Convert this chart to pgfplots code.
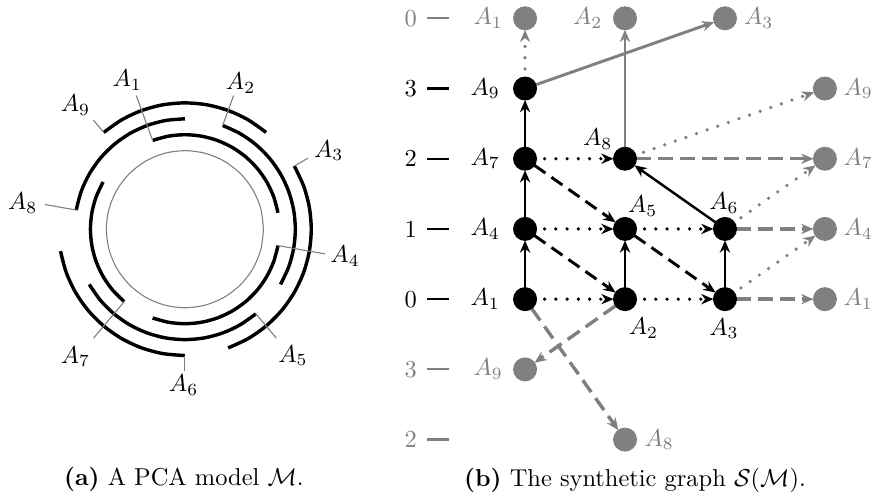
\documentclass[border=0pt]{standalone}
\usepackage{pgfplots}
\pgfplotsset{compat=1.18}
\usetikzlibrary{arrows.meta}
\pgfplotsset{
  arcst/.style={black, line width=1.4pt, data cs=polar, smooth},
  lblline/.style={gray, line width=0.45pt, data cs=polar},
  tip/.style={-{Stealth[length=5pt,width=4.2pt,inset=1.6pt]}},
  bsolid/.style={black, line width=1pt, tip, shorten <=4.7pt, shorten >=4.7pt},
  bdot/.style={black, line width=1.5pt, line cap=round, dash pattern=on 0pt off 4.6pt, tip, shorten <=8pt, shorten >=4.7pt},
  bdash/.style={black, line width=1.2pt, dash pattern=on 5.5pt off 3pt, tip, shorten <=4.7pt, shorten >=4.7pt},
  gsolid/.style={gray, line width=1.2pt, tip, shorten <=4.7pt, shorten >=4.7pt},
  gdot/.style={gray, line width=1.5pt, line cap=round, dash pattern=on 0pt off 4.6pt, tip, shorten <=8pt, shorten >=4.7pt},
  gdash/.style={gray, line width=1.4pt, dash pattern=on 6pt off 3pt, tip, shorten <=4.7pt, shorten >=4.7pt},
}
\begin{document}
\begin{tikzpicture}
% ---------------- (a) PCA model ----------------
\begin{axis}[at={(0,0)}, anchor=south west, x=0.407pt, y=0.407pt,
  xmin=-188, xmax=693, ymin=-274, ymax=228,
  scale only axis, hide axis, clip=false]
% thin inner circle
\addplot[gray, line width=0.45pt, data cs=polar, smooth] coordinates {
 (0,79) (15,79) (30,79) (45,79) (60,79) (75,79) (90,79) (105,79) (120,79) (135,79) (150,79) (165,79)
 (180,79) (195,79) (210,79) (225,79) (240,79) (255,79) (270,79) (285,79) (300,79) (315,79) (330,79) (345,79) (360,79)};
% ring 1 (r = 95)
\addplot[arcst] coordinates {(10,95) (20,95) (30,95) (40,95) (50,95) (60,95) (70,95) (80,95) (90,95) (100,95) (110,95)}; % A1
\addplot[arcst] coordinates {(-110,95) (-100,95) (-90,95) (-80,95) (-70,95) (-60,95) (-50,95) (-40,95) (-30,95) (-20,95) (-10,95)}; % A4
\addplot[arcst] coordinates {(150,95) (160,95) (170,95) (180,95) (190,95) (200,95) (210,95) (220,95) (230,95)}; % A7
% ring 2 (r = 111)
\addplot[arcst] coordinates {(-30,111) (-20,111) (-10,111) (0,111) (10,111) (20,111) (30,111) (40,111) (50,111) (60,111) (70,111)}; % A2
\addplot[arcst] coordinates {(-150,111) (-140,111) (-130,111) (-120,111) (-110,111) (-100,111) (-90,111) (-80,111) (-70,111) (-60,111) (-50,111)}; % A5
\addplot[arcst] coordinates {(90,111) (100,111) (110,111) (120,111) (130,111) (140,111) (150,111) (160,111) (170,111)}; % A8
% ring 3 (r = 127)
\addplot[arcst] coordinates {(-70,127) (-60,127) (-50,127) (-40,127) (-30,127) (-20,127) (-10,127) (0,127) (10,127) (20,127) (30,127)}; % A3
\addplot[arcst] coordinates {(-170,127) (-160,127) (-150,127) (-140,127) (-130,127) (-120,127) (-110,127) (-100,127) (-90,127)}; % A6
\addplot[arcst] coordinates {(50,127) (60,127) (70,127) (80,127) (90,127) (100,127) (110,127) (120,127) (130,127)}; % A9
% label lines
\addplot[lblline] coordinates {(110,95) (110,143)};
\addplot[lblline] coordinates {(70,111) (70,143)};
\addplot[lblline] coordinates {(30,127) (30,143)};
\addplot[lblline] coordinates {(-10,95) (-10,143)};
\addplot[lblline] coordinates {(-50,111) (-50,143)};
\addplot[lblline] coordinates {(-90,127) (-90,143)};
\addplot[lblline] coordinates {(-130,95) (-130,143)};
\addplot[lblline] coordinates {(170,111) (170,143)};
\addplot[lblline] coordinates {(130,127) (130,143)};
% labels
\node at (axis cs:-58,150) {$A_1$};
\node at (axis cs:56,147) {$A_2$};
\node at (axis cs:144.5,79) {$A_3$};
\node at (axis cs:161,-27) {$A_4$};
\node at (axis cs:108.7,-127) {$A_5$};
\node at (axis cs:-1.3,-157) {$A_6$};
\node at (axis cs:-110,-128) {$A_7$};
\node at (axis cs:-163,26.3) {$A_8$};
\node at (axis cs:-110,125) {$A_9$};
\node at (axis cs:-1,-252) {\textbf{(a)} A PCA model $\mathcal{M}$.};
\end{axis}
% ---------------- (b) synthetic graph ----------------
\begin{axis}[at={(0,0)}, anchor=south west, x=40.90pt, y=28.73pt,
  xmin=-5.2736, xmax=3.4925, ymin=-2.8853, ymax=4.2252,
  scale only axis, hide axis, clip=false]
% level markers
\addplot[gray, line width=0.9pt] coordinates {(-0.978,4) (-0.763,4)};
\addplot[black, line width=0.9pt] coordinates {(-0.978,3) (-0.763,3)};
\addplot[black, line width=0.9pt] coordinates {(-0.978,2) (-0.763,2)};
\addplot[black, line width=0.9pt] coordinates {(-0.978,1) (-0.763,1)};
\addplot[black, line width=0.9pt] coordinates {(-0.978,0) (-0.763,0)};
\addplot[gray, line width=0.9pt] coordinates {(-0.978,-1) (-0.763,-1)};
\addplot[gray, line width=0.9pt] coordinates {(-0.978,-2) (-0.763,-2)};
\node[gray] at (axis cs:-1.144,4) {0};
\node at (axis cs:-1.144,3) {3};
\node at (axis cs:-1.144,2) {2};
\node at (axis cs:-1.144,1) {1};
\node at (axis cs:-1.144,0) {0};
\node[gray] at (axis cs:-1.144,-1) {3};
\node[gray] at (axis cs:-1.144,-2) {2};
% gray edges
\addplot[gdot] coordinates {(0,3) (0,4)};
\addplot[gsolid] coordinates {(0,3) (2,4)};
\addplot[gsolid] coordinates {(1,2) (1,4)};
\addplot[gdot] coordinates {(1,2) (3,3)};
\addplot[gdash] coordinates {(1,2) (3,2)};
\addplot[gdot] coordinates {(2,1) (3,2)};
\addplot[gdash] coordinates {(2,1) (3,1)};
\addplot[gdot] coordinates {(2,0) (3,1)};
\addplot[gdash] coordinates {(2,0) (3,0)};
\addplot[gdash] coordinates {(1,0) (0,-1)};
\addplot[gdash] coordinates {(0,0) (1,-2)};
% black edges
\addplot[bsolid] coordinates {(0,0) (0,1)};
\addplot[bsolid] coordinates {(0,1) (0,2)};
\addplot[bsolid] coordinates {(0,2) (0,3)};
\addplot[bsolid] coordinates {(1,0) (1,1)};
\addplot[bsolid] coordinates {(2,0) (2,1)};
\addplot[bsolid] coordinates {(2,1) (1,2)};
\addplot[bdot] coordinates {(0,0) (1,0)};
\addplot[bdot] coordinates {(1,0) (2,0)};
\addplot[bdot] coordinates {(0,1) (1,1)};
\addplot[bdot] coordinates {(1,1) (2,1)};
\addplot[bdot] coordinates {(0,2) (1,2)};
\addplot[bdash] coordinates {(0,2) (1,1)};
\addplot[bdash] coordinates {(0,1) (1,0)};
\addplot[bdash] coordinates {(1,1) (2,0)};
% vertices
\addplot[only marks, mark=*, mark size=4.7pt, gray, mark options={draw=gray, fill=gray}] coordinates {
 (0,4) (1,4) (2,4) (3,3) (3,2) (3,1) (3,0) (0,-1) (1,-2)};
\addplot[only marks, mark=*, mark size=4.7pt, black, mark options={draw=black, fill=black}] coordinates {
 (0,0) (1,0) (2,0) (0,1) (1,1) (2,1) (0,2) (1,2) (0,3)};
% vertex labels
\node at (axis cs:-0.398,0) {$A_1$};
\node at (axis cs:-0.398,1) {$A_4$};
\node at (axis cs:-0.398,2) {$A_7$};
\node at (axis cs:-0.398,3) {$A_9$};
\node at (axis cs:1.184,-0.41) {$A_2$};
\node at (axis cs:1.99,-0.42) {$A_3$};
\node at (axis cs:1.177,1.32) {$A_5$};
\node at (axis cs:1.99,1.37) {$A_6$};
\node at (axis cs:0.727,2.28) {$A_8$};
\node[gray] at (axis cs:-0.368,4) {$A_1$};
\node[gray] at (axis cs:0.627,4) {$A_2$};
\node[gray] at (axis cs:2.338,4) {$A_3$};
\node[gray] at (axis cs:3.333,3) {$A_9$};
\node[gray] at (axis cs:3.333,2) {$A_7$};
\node[gray] at (axis cs:3.333,1) {$A_4$};
\node[gray] at (axis cs:3.333,0) {$A_1$};
\node[gray] at (axis cs:-0.368,-1) {$A_9$};
\node[gray] at (axis cs:1.343,-2) {$A_8$};
\node at (axis cs:1.10,-2.574) {\textbf{(b)} The synthetic graph $\mathcal{S}(\mathcal{M})$.};
\end{axis}
\end{tikzpicture}
\end{document}
